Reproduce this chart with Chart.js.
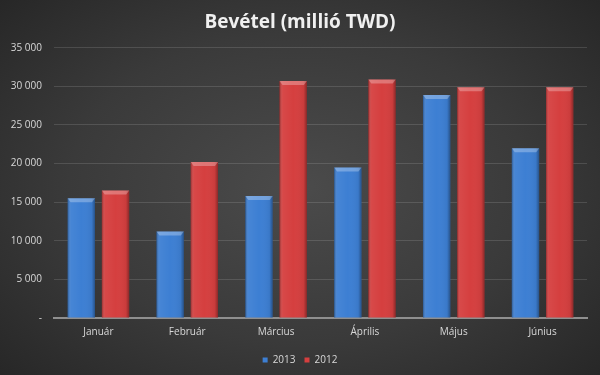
<!DOCTYPE html>
<html>
<head>
<meta charset="utf-8">
<script src="https://cdn.jsdelivr.net/npm/chart.js@4"></script>
<style>
  html, body { margin: 0; padding: 0; }
  body {
    width: 600px; height: 375px; overflow: hidden;
    background: radial-gradient(ellipse 70% 75% at 50% 50%, #4b4b4b 0%, #3a3a3a 55%, #262626 100%);
  }
  canvas { display: block; }
</style>
</head>
<body>
<canvas id="myChart" width="600" height="375"></canvas>
<script>
'use strict'
// data
let months = ['Január', 'Február', 'Március', 'Április', 'Május', 'Június'];
let rev2013 = [15500, 11200, 15800, 19500, 28900, 22000];
let rev2012 = [16500, 20200, 30700, 30900, 29900, 29900];
let yTicks = [0, 5000, 10000, 15000, 20000, 25000, 30000, 35000];

let labelColor = '#d8d8d8';

function fmt(v) {
    if (v === 0) return '-';
    return String(v).replace(/\B(?=(\d{3})+(?!\d))/g, ' ');
}

// bevel look on each bar, drawn from the bar elements themselves
let bevelPlugin = {
    id: 'bevel',
    afterDatasetsDraw(chart) {
        let ctx = chart.ctx;
        chart.data.datasets.forEach((ds, di) => {
            let meta = chart.getDatasetMeta(di);
            meta.data.forEach(bar => {
                let left = bar.x - bar.width / 2;
                let right = bar.x + bar.width / 2;
                let top = bar.y;
                let bottom = bar.base;
                ctx.save();
                let g = ctx.createLinearGradient(left, 0, right, 0);
                g.addColorStop(0, 'rgba(0,0,0,0.30)');
                g.addColorStop(0.12, 'rgba(255,255,255,0.05)');
                g.addColorStop(0.5, 'rgba(255,255,255,0.0)');
                g.addColorStop(0.88, 'rgba(0,0,0,0.05)');
                g.addColorStop(1, 'rgba(0,0,0,0.35)');
                ctx.fillStyle = g;
                ctx.fillRect(left, top, right - left, bottom - top);
                // top bevel
                ctx.fillStyle = 'rgba(255,255,255,0.28)';
                ctx.beginPath();
                ctx.moveTo(left, top);
                ctx.lineTo(right, top);
                ctx.lineTo(right - 3, top + 4);
                ctx.lineTo(left + 3, top + 4);
                ctx.closePath();
                ctx.fill();
                ctx.restore();
            });
        });
    }
};

let ctx = document.getElementById('myChart').getContext('2d');
let myChart = new Chart(ctx, {
    type: 'bar',
    data: {
        labels: months,
        datasets: [{
            label: '2013',
            data: rev2013,
            backgroundColor: '#3d7fd3',
            borderWidth: 0
        }, {
            label: '2012',
            data: rev2012,
            backgroundColor: '#d53f3f',
            borderWidth: 0
        }]
    },
    options: {
        responsive: false,
        animation: false,
        devicePixelRatio: 1,
        categoryPercentage: 0.77,
        barPercentage: 0.8,
        layout: { padding: { left: 0, right: 0, top: 0, bottom: 0 } },
        plugins: {
            title: {
                display: true,
                text: 'Bevétel (millió TWD)',
                color: '#f0f0f0',
                font: { family: 'Open Sans', size: 19, weight: 'bold' },
                padding: { top: 11, bottom: 14 }
            },
            legend: {
                position: 'bottom',
                labels: {
                    color: labelColor,
                    font: { family: 'Open Sans', size: 10 },
                    boxWidth: 5,
                    boxHeight: 5,
                    padding: 9
                }
            },
            tooltip: { enabled: false }
        },
        scales: {
            x: {
                grid: { display: false, drawTicks: false },
                border: { color: '#8f8f8f', width: 2 },
                ticks: {
                    color: labelColor,
                    font: { family: 'Open Sans', size: 10 },
                    padding: 8,
                    maxRotation: 0
                }
            },
            y: {
                min: 0,
                max: 35000,
                afterBuildTicks: axis => { axis.ticks = yTicks.map(v => ({ value: v })); },
                afterFit: axis => { axis.width = 54; },
                grid: { color: 'rgba(255,255,255,0.13)', drawTicks: false },
                border: { display: false },
                ticks: {
                    color: labelColor,
                    font: { family: 'Open Sans', size: 10 },
                    padding: 12,
                    callback: v => fmt(v)
                }
            },
            // empty right-hand margin so title and legend center on the whole canvas
            yRight: {
                position: 'right',
                display: true,
                grid: { display: false, drawTicks: false },
                border: { display: false },
                ticks: { display: false },
                afterFit: axis => { axis.width = 13; }
            }
        }
    },
    plugins: [bevelPlugin]
});
</script>
</body>
</html>
